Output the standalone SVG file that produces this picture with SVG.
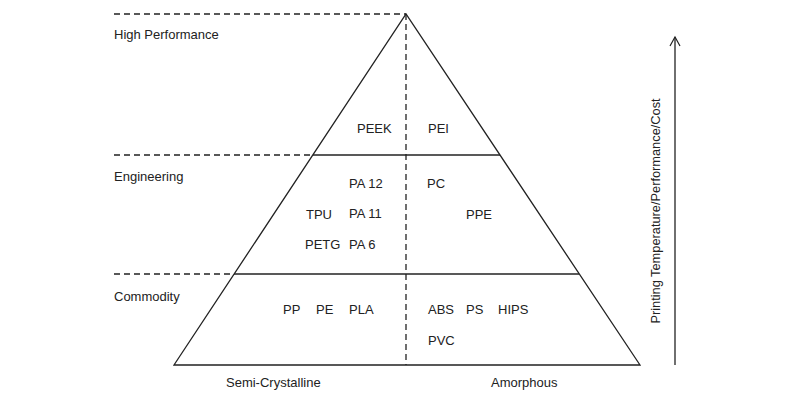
<svg xmlns="http://www.w3.org/2000/svg" width="800" height="400" viewBox="0 0 800 400">
<style>
text{font-family:"Liberation Sans",Arial,sans-serif;font-size:13px;fill:#222}
.s{stroke:#222;stroke-width:1.3;fill:none}
.d{stroke:#222;stroke-width:1.3;fill:none;stroke-dasharray:6 4}
</style>
<defs>
<marker id="ah" viewBox="0 0 12 12" refX="10" refY="6" markerWidth="12" markerHeight="12" markerUnits="userSpaceOnUse" orient="auto">
<path d="M1 1 L10 6 L1 11" fill="none" stroke="#222" stroke-width="1.2"/>
</marker>
</defs>
<g id="connectors">
<path class="s" d="M174 365 L406 14 L640 365 Z"/>
<line class="s" x1="313" y1="155" x2="500" y2="155"/>
<line class="s" x1="234" y1="274" x2="579" y2="274"/>
<line class="d" x1="114" y1="14" x2="406" y2="14"/>
<line class="d" x1="114" y1="155" x2="313" y2="155"/>
<line class="d" x1="114" y1="274" x2="234" y2="274"/>
<line class="d" x1="406" y1="14" x2="406" y2="365"/>
<line class="s" x1="675" y1="365" x2="675" y2="37" marker-end="url(#ah)"/>
</g>
<g id="tiers">
<text x="114" y="39">High Performance</text>
<text x="114" y="181">Engineering</text>
<text x="114" y="301">Commodity</text>
</g>
<g id="axis">
<text x="226" y="387">Semi-Crystalline</text>
<text x="491" y="387">Amorphous</text>
<text transform="translate(660,211) rotate(-90)" text-anchor="middle" style="font-size:12.8px">Printing Temperature/Performance/Cost</text>
</g>
<g id="materials">
<text x="357" y="133">PEEK</text>
<text x="428" y="133">PEI</text>
<text x="349" y="188">PA 12</text>
<text x="427" y="188">PC</text>
<text x="306" y="219">TPU</text>
<text x="349" y="218">PA 11</text>
<text x="466" y="219">PPE</text>
<text x="305" y="249">PETG</text>
<text x="349" y="249">PA 6</text>
<text x="283" y="314">PP</text>
<text x="316" y="314">PE</text>
<text x="349" y="314">PLA</text>
<text x="428" y="314">ABS</text>
<text x="466" y="314">PS</text>
<text x="498" y="314">HIPS</text>
<text x="428" y="345">PVC</text>
</g>
</svg>
